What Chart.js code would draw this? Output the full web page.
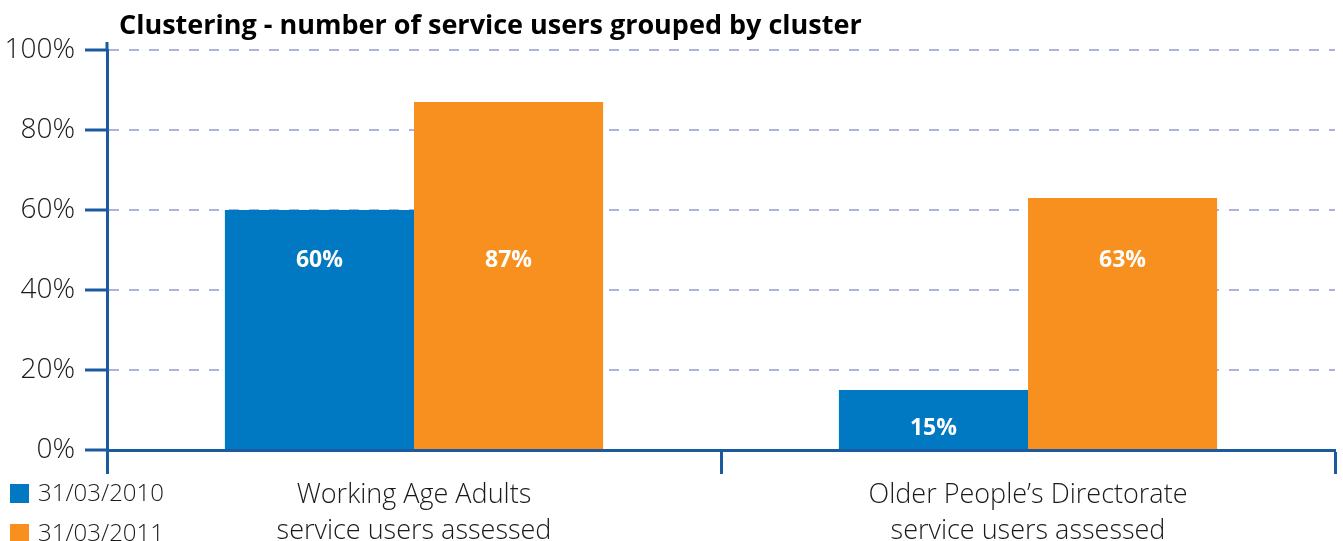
<!DOCTYPE html>
<html lang="en">
<head>
  <meta charset="UTF-8" />
  <script src="https://cdn.jsdelivr.net/npm/chart.js"></script>
  <title>Clustering - number of service users grouped by cluster</title>
  <style>
    html, body { margin: 0; padding: 0; background: #fff; }
    #contenedor { width: 1343px; height: 541px; }
  </style>
</head>
<body>
  <div id="contenedor">
    <canvas id="grafico" width="1343" height="541"></canvas>
  </div>
  <script>
    // Datos del grafico
    const categorias = [
      ['Working Age Adults', 'service users assessed'],
      ['Older People\u2019s Directorate', 'service users assessed']
    ];
    const fechas = ['31/03/2010', '31/03/2011'];
    const valores2010 = [60, 15];
    const valores2011 = [87, 63];
    const marcasY = [0, 20, 40, 60, 80, 100];
    const titulo = 'Clustering - number of service users grouped by cluster';

    const AZUL = '#0079c2';
    const NARANJA = '#f7901f';
    const EJE = '#1b5a9e';
    const TEXTO = '#1a1a1a';
    const FUENTE = '"Open Sans", "Noto Sans", sans-serif';

    // Titulo arriba a la izquierda
    const pluginTitulo = {
      id: 'titulo',
      afterDraw(chart) {
        const ctx = chart.ctx;
        ctx.save();
        ctx.font = `bold 27px ${FUENTE}`;
        ctx.fillStyle = '#000';
        ctx.textBaseline = 'alphabetic';
        ctx.textAlign = 'left';
        ctx.fillText(titulo, 119, 34);
        ctx.restore();
      }
    };

    // Leyenda vertical abajo a la izquierda
    const pluginLeyenda = {
      id: 'leyendaAbajo',
      afterDraw(chart) {
        const ctx = chart.ctx;
        ctx.save();
        ctx.font = `300 24px ${FUENTE}`;
        ctx.textBaseline = 'middle';
        ctx.textAlign = 'left';
        chart.data.datasets.forEach((ds, i) => {
          const y = 494 + i * 40;
          ctx.fillStyle = ds.backgroundColor;
          ctx.fillRect(10, y - 10, 19, 19);
          ctx.fillStyle = TEXTO;
          ctx.fillText(ds.label, 38, y);
        });
        ctx.restore();
      }
    };

    // Porcentajes en blanco dentro de cada barra
    const pluginEtiquetas = {
      id: 'etiquetas',
      afterDatasetsDraw(chart) {
        const ctx = chart.ctx;
        const y = chart.scales.y;
        ctx.save();
        ctx.font = `bold 23px ${FUENTE}`;
        ctx.fillStyle = '#fff';
        ctx.textAlign = 'center';
        ctx.textBaseline = 'middle';
        chart.data.datasets.forEach((ds, i) => {
          chart.getDatasetMeta(i).data.forEach((barra, j) => {
            const v = ds.data[j];
            const pos = Math.min(47.5, v - 9.5);
            ctx.fillText(v + '%', barra.x, y.getPixelForValue(pos));
          });
        });
        ctx.restore();
      }
    };

    // Prolonga el eje vertical un poco por encima del 100%
    const pluginEje = {
      id: 'ejeArriba',
      afterDraw(chart) {
        const ctx = chart.ctx;
        const area = chart.chartArea;
        ctx.save();
        ctx.strokeStyle = EJE;
        ctx.lineWidth = 3;
        ctx.beginPath();
        ctx.moveTo(area.left, area.top);
        ctx.lineTo(area.left, area.top - 8);
        ctx.stroke();
        ctx.restore();
      }
    };

    const ctx = document.getElementById('grafico').getContext('2d');
    new Chart(ctx, {
      type: 'bar',
      data: {
        labels: categorias,
        datasets: [
          { label: fechas[0], data: valores2010, backgroundColor: AZUL },
          { label: fechas[1], data: valores2011, backgroundColor: NARANJA }
        ]
      },
      options: {
        responsive: false,
        animation: false,
        devicePixelRatio: 1,
        layout: { padding: { top: 50, right: 8, left: 0, bottom: 0 } },
        datasets: {
          bar: { categoryPercentage: 0.616, barPercentage: 1.0, borderWidth: 0 }
        },
        plugins: {
          legend: { display: false },
          title: { display: false },
          tooltip: { enabled: false }
        },
        scales: {
          x: {
            grid: {
              offset: true,
              drawOnChartArea: false,
              tickLength: 24,
              tickColor: EJE,
              tickWidth: 3
            },
            border: { color: EJE, width: 3 },
            ticks: {
              color: TEXTO,
              font: { family: FUENTE, size: 27, weight: 300, lineHeight: 1.33 },
              padding: 3,
              maxRotation: 0,
              autoSkip: false
            },
            afterFit(escala) { escala.height = 91; }
          },
          y: {
            min: 0,
            max: 100,
            afterBuildTicks(escala) {
              escala.ticks = marcasY.map(v => ({ value: v }));
            },
            ticks: {
              color: TEXTO,
              font: { family: FUENTE, size: 28, weight: 300 },
              padding: 10,
              callback: v => v + '%'
            },
            grid: {
              color: '#aab4da',
              lineWidth: 2,
              tickColor: EJE,
              tickWidth: 3,
              tickLength: 22,
              tickBorderDash: []
            },
            border: { color: EJE, width: 3, dash: [10, 10] },
            afterFit(escala) { escala.width = 107; }
          }
        }
      },
      plugins: [pluginTitulo, pluginLeyenda, pluginEtiquetas, pluginEje]
    });
  </script>
</body>
</html>
